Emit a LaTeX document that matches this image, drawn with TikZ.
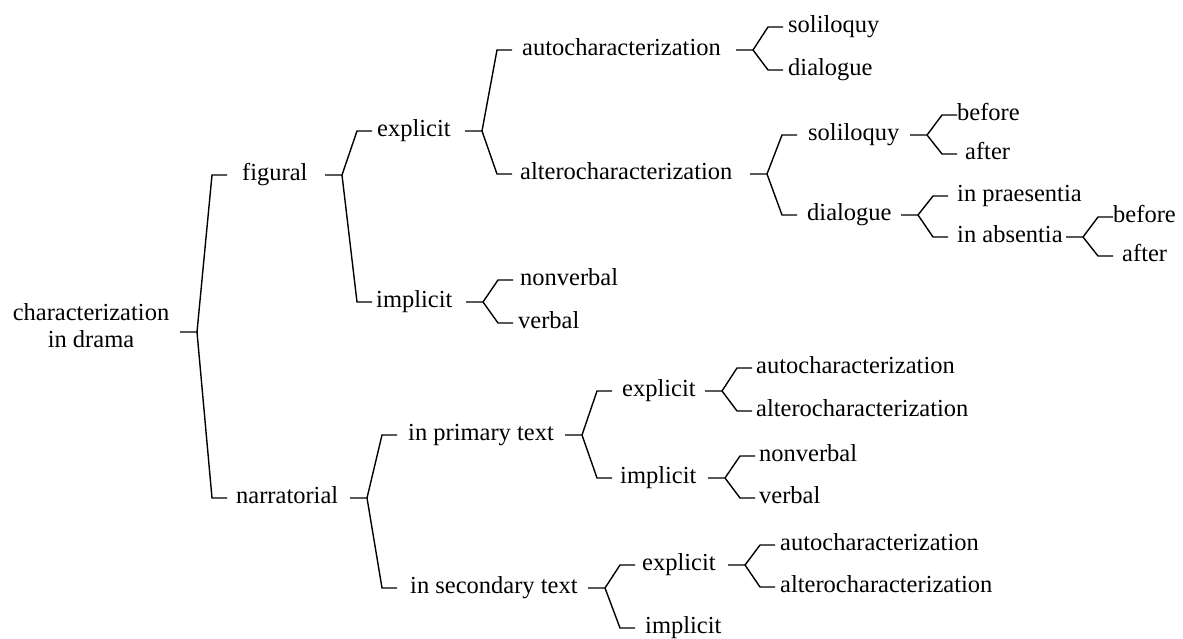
\documentclass[tikz,border=0pt]{standalone}
\usepackage{fontspec}
\setmainfont{Liberation Serif}
\usetikzlibrary{calc}
% #1 parent point, #2 junction x, #3 upper child point, #4 lower child point
\newcommand\forkto[4]{%
  \path (#2,0) coordinate (jx);
  \draw[forkline] ($(jx |- #1)+(-17,0)$) -- (jx |- #1)
     -- ($(jx |- #3)+(15,0)$) -- ($(jx |- #3)+(30,0)$);
  \draw[forkline] (jx |- #1) -- ($(jx |- #4)+(15,0)$) -- ($(jx |- #4)+(30,0)$);
}
\begin{document}
\begin{tikzpicture}[x=1pt,y=-1pt,
  lbl/.style={anchor=west,inner sep=0pt,text height=16.5pt,text depth=5.5pt,
    font=\fontsize{24.5}{29}\selectfont},
  rootlbl/.style={align=center,inner sep=0pt,font=\fontsize{24.5}{27}\selectfont},
  forkline/.style={line width=1.4pt,line join=miter}]
\useasboundingbox (0,0) rectangle (1183,639);

% labels
\node[rootlbl] (root) at (91,326) {characterization\\in drama};
\path (root.east) ++(0,6) coordinate (rootc);
\node[lbl] (fig) at (242,175) {figural};
\node[lbl] (nar) at (236,498) {narratorial};
\node[lbl] (fexp) at (377,131) {explicit};
\node[lbl] (fimp) at (376,302) {implicit};
\node[lbl] (fauto) at (522,50) {autocharacterization};
\node[lbl] (falt) at (520,174) {alterocharacterization};
\node[lbl] (fnon) at (520,280) {nonverbal};
\node[lbl] (fverb) at (518,323) {verbal};
\node[lbl] (asol) at (788,27) {soliloquy};
\node[lbl] (adia) at (788,70) {dialogue};
\node[lbl] (lsol) at (808,135) {soliloquy};
\node[lbl] (ldia) at (807,215) {dialogue};
\node[lbl] (sbef) at (957,115) {before};
\node[lbl] (saft) at (965,154) {after};
\node[lbl] (dpra) at (957,196) {in praesentia};
\node[lbl] (dabs) at (957,237) {in absentia};
\node[lbl] (abef) at (1113,217) {before};
\node[lbl] (aaft) at (1122,256) {after};
\node[lbl] (prim) at (408,435) {in primary text};
\node[lbl] (sec) at (410,588) {in secondary text};
\node[lbl] (pexp) at (622,391) {explicit};
\node[lbl] (pimp) at (620,478) {implicit};
\node[lbl] (pauto) at (756,368) {autocharacterization};
\node[lbl] (palt) at (756,411) {alterocharacterization};
\node[lbl] (pnon) at (759,456) {nonverbal};
\node[lbl] (pverb) at (759,498) {verbal};
\node[lbl] (sexp) at (642,565) {explicit};
\node[lbl] (simp) at (645,628) {implicit};
\node[lbl] (sauto) at (780,545) {autocharacterization};
\node[lbl] (salt) at (780,587) {alterocharacterization};

% brackets
\forkto{rootc}{197}{fig.west}{nar.west}
\forkto{fig.east}{342}{fexp.west}{fimp.west}
\forkto{fexp.east}{482}{fauto.west}{falt.west}
\forkto{fimp.east}{483}{fnon.west}{fverb.west}
\forkto{fauto.east}{753}{asol.west}{adia.west}
\forkto{falt.east}{767}{lsol.west}{ldia.west}
\forkto{lsol.east}{927}{sbef.west}{saft.west}
\forkto{ldia.east}{918}{dpra.west}{dabs.west}
\forkto{dabs.east}{1083}{abef.west}{aaft.west}
\forkto{nar.east}{367}{prim.west}{sec.west}
\forkto{prim.east}{582}{pexp.west}{pimp.west}
\forkto{pexp.east}{722}{pauto.west}{palt.west}
\forkto{pimp.east}{725}{pnon.west}{pverb.west}
\forkto{sec.east}{605}{sexp.west}{simp.west}
\forkto{sexp.east}{745}{sauto.west}{salt.west}
\end{tikzpicture}
\end{document}
